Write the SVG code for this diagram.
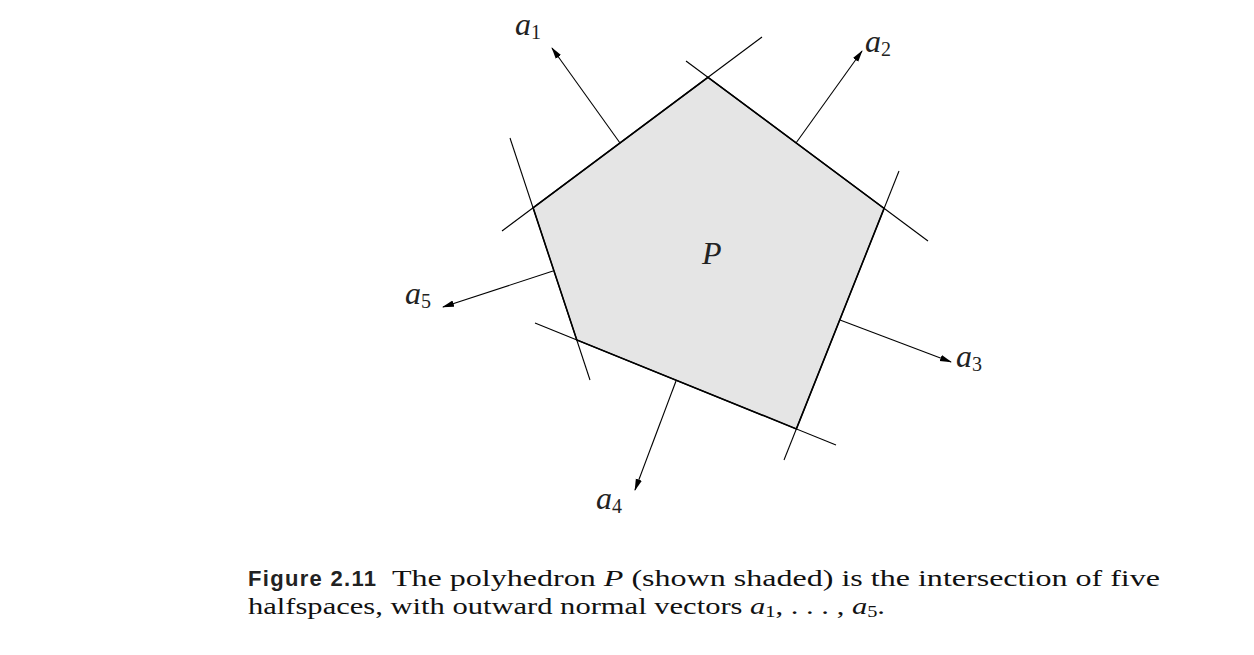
<svg xmlns="http://www.w3.org/2000/svg" width="1254" height="655" viewBox="0 0 1254 655">
<style>
.edge{stroke:#000;stroke-width:1.1;fill:none}
.side{stroke:#000;stroke-width:1.6;fill:none}
.vec{stroke:#000;stroke-width:1.1;fill:none;marker-end:url(#ah)}
.lab{font-family:"Liberation Serif",serif;font-style:italic;font-size:32px;fill:#222}
.sub{font-style:normal;font-size:20px}
.cap{font-family:"Liberation Serif",serif;font-size:24px;fill:#111}
.capb{font-family:"Liberation Sans",sans-serif;font-weight:bold;font-size:22px;letter-spacing:1.3px;fill:#222}
</style>
<defs>
<marker id="ah" viewBox="0 0 12 8" refX="11" refY="4" markerWidth="12" markerHeight="8" markerUnits="userSpaceOnUse" orient="auto">
<path d="M0,0.8 L12,4 L0,7.2 Z" fill="#000"/>
</marker>
</defs>
<g id="polyhedron">
<polygon points="708,77.3 884.1,208.4 796.4,428.9 576.8,339.9 533.1,207.8" fill="#e5e5e5" stroke="none"/>
<polygon class="side" points="708,77.3 884.1,208.4 796.4,428.9 576.8,339.9 533.1,207.8"/>
<text class="lab" x="702" y="264" font-size="31">P</text>
</g>
<g id="connectors">
<line class="edge" x1="502" y1="231" x2="762" y2="37"/>
<line class="edge" x1="686" y1="61" x2="928" y2="241"/>
<line class="edge" x1="899" y1="171" x2="784" y2="460"/>
<line class="edge" x1="535" y1="323" x2="836" y2="445"/>
<line class="edge" x1="510" y1="138" x2="590" y2="380"/>
<line class="vec" x1="620" y1="143" x2="552" y2="48"/>
<line class="vec" x1="796" y1="143" x2="862" y2="51"/>
<line class="vec" x1="840" y1="320" x2="951" y2="362"/>
<line class="vec" x1="676" y1="381" x2="635" y2="490"/>
<line class="vec" x1="553" y1="271" x2="443" y2="307"/>
</g>
<g id="a1"><text class="lab" x="515" y="35">a<tspan class="sub" dy="4">1</tspan></text></g>
<g id="a2"><text class="lab" x="865" y="52">a<tspan class="sub" dy="4">2</tspan></text></g>
<g id="a3"><text class="lab" x="956" y="367">a<tspan class="sub" dy="4">3</tspan></text></g>
<g id="a4"><text class="lab" x="596" y="509">a<tspan class="sub" dy="4">4</tspan></text></g>
<g id="a5"><text class="lab" x="405" y="304">a<tspan class="sub" dy="4">5</tspan></text></g>
<g id="caption">
<text class="capb" x="248" y="586">Figure 2.11</text>
<text class="cap" x="392" y="586" textLength="768" lengthAdjust="spacingAndGlyphs">The polyhedron <tspan font-style="italic">P</tspan> (shown shaded) is the intersection of five</text>
<text class="cap" x="248" y="614" textLength="637" lengthAdjust="spacingAndGlyphs">halfspaces, with outward normal vectors <tspan font-style="italic">a</tspan><tspan font-size="16" dy="3">1</tspan><tspan dy="-3">, . . . , </tspan><tspan font-style="italic">a</tspan><tspan font-size="16" dy="3">5</tspan><tspan dy="-3">.</tspan></text>
</g>
</svg>
